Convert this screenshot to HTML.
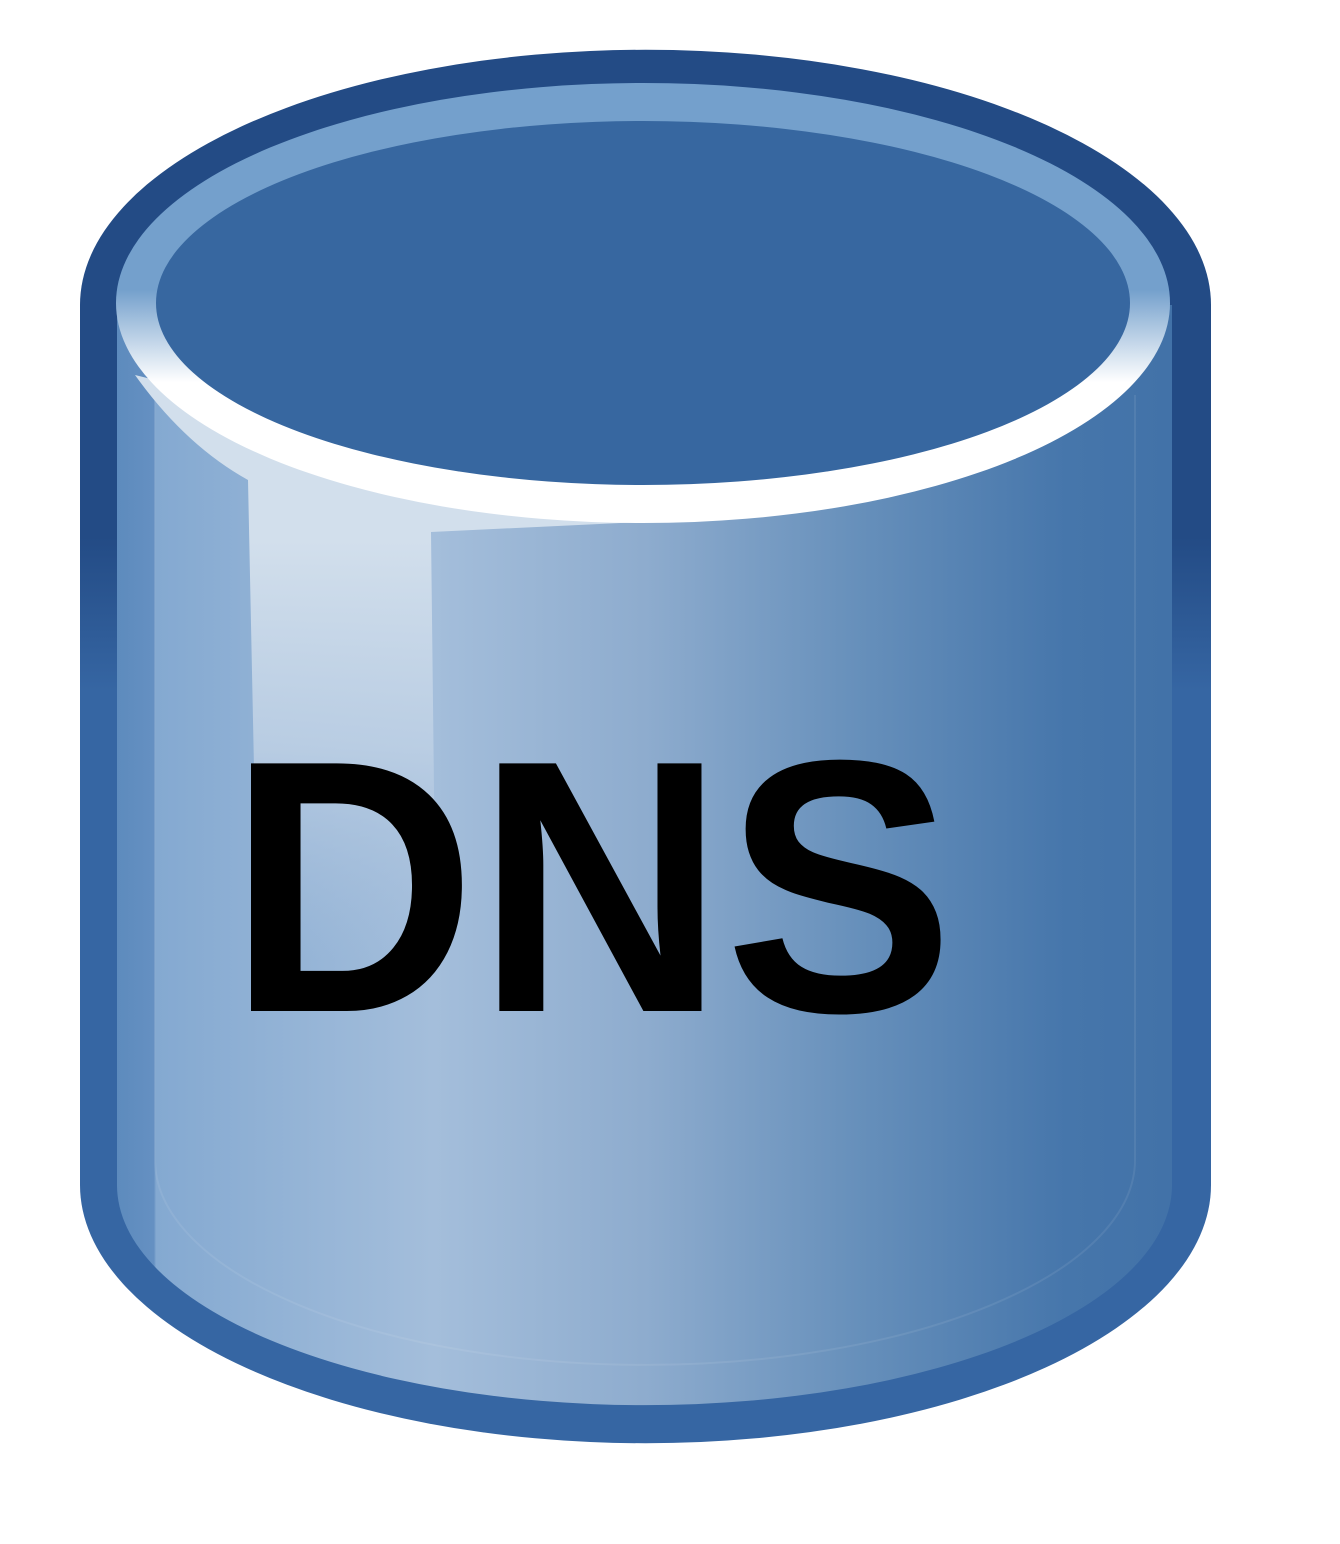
<!DOCTYPE html>
<html><head><meta charset="utf-8"><style>html,body{margin:0;padding:0;background:#fff;}svg{display:block}</style></head>
<body>
<svg width="1340" height="1544" viewBox="0 0 1340 1544" xmlns="http://www.w3.org/2000/svg">
<defs>
<linearGradient id="outer" x1="0" y1="0" x2="0" y2="1" gradientUnits="objectBoundingBox">
<stop offset="0" stop-color="#234b85"/><stop offset="0.35" stop-color="#234b85"/><stop offset="0.46" stop-color="#3666a3"/><stop offset="1" stop-color="#3666a3"/>
</linearGradient>
<linearGradient id="body" x1="117" y1="0" x2="1172" y2="0" gradientUnits="userSpaceOnUse">
<stop offset="0" stop-color="#5d8bbd"/><stop offset="0.035" stop-color="#6590c2"/><stop offset="0.037" stop-color="#84a9d1"/><stop offset="0.3" stop-color="#a4bedb"/><stop offset="0.5" stop-color="#8eacce"/><stop offset="0.7" stop-color="#6790bb"/><stop offset="0.9" stop-color="#4676ab"/><stop offset="1" stop-color="#4272a8"/>
</linearGradient>
<linearGradient id="rim" x1="0" y1="83" x2="0" y2="523" gradientUnits="userSpaceOnUse">
<stop offset="0" stop-color="#74a0cc"/><stop offset="0.47" stop-color="#74a0cc"/><stop offset="0.68" stop-color="#ffffff"/><stop offset="1" stop-color="#ffffff"/>
</linearGradient>
<linearGradient id="hl" x1="0" y1="540" x2="0" y2="960" gradientUnits="userSpaceOnUse">
<stop offset="0" stop-color="#d2dfec" stop-opacity="1"/><stop offset="0.5" stop-color="#bccfe4" stop-opacity="0.9"/><stop offset="1" stop-color="#a8c0dc" stop-opacity="0"/>
</linearGradient>
</defs>
<path d="M80,305 A565,255 0 0 1 1211,305 L1211,1185 A565,258 0 0 1 80,1185 Z" fill="url(#outer)"/>
<path d="M117,305 L117,1185 A527,220 0 0 0 1172,1185 L1172,305 Z" fill="url(#body)"/>
<path d="M155,395 L155,1160 A490,205 0 0 0 1135,1160 L1135,395" fill="none" stroke="#ffffff" stroke-opacity="0.08" stroke-width="2"/>
<path d="M135,375 Q185,445 248,480 L258,960 L436,960 L431,532 L640,522 L640,500 Z" fill="url(#hl)"/>
<ellipse cx="643" cy="303" rx="527" ry="220" fill="url(#rim)"/>
<ellipse cx="643" cy="303" rx="487" ry="182" fill="#3767a0"/>
<text x="228" y="1011" font-family="Liberation Sans, Arial, sans-serif" font-weight="bold" font-size="360" fill="#000" textLength="726" lengthAdjust="spacingAndGlyphs">DNS</text>
</svg>
</body></html>
